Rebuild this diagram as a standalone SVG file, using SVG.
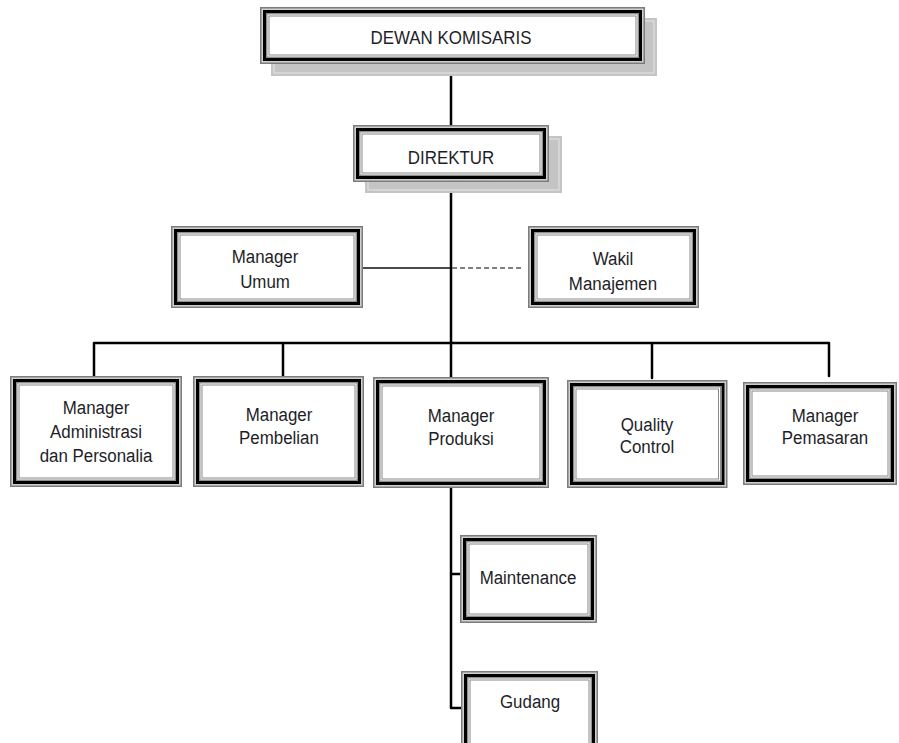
<svg xmlns="http://www.w3.org/2000/svg" width="899" height="743" viewBox="0 0 899 743">
<style>
.o{fill:#cfcfcf;stroke:#7c7c7c;stroke-width:1.5}
.b{fill:none;stroke:#000;stroke-width:3}
.g{fill:#fff;stroke:#8e8e8e;stroke-width:1.5}
.i{fill:#fff;stroke:#888;stroke-width:1}
.sh{fill:#c4c4c4}
.shl{fill:none;stroke:#e6e6e6;stroke-width:1}
text{font-family:"Liberation Sans",Arial,sans-serif;font-size:19px;fill:#1e1e28;text-anchor:middle}
.c{fill:none;stroke:#000;stroke-width:2.5;stroke-linejoin:round;stroke-linecap:round}
.t{fill:none;stroke:#111;stroke-width:1.5}
.d{fill:none;stroke:#555;stroke-width:1.5;stroke-dasharray:5 3}
</style>
<rect width="899" height="743" fill="#fff"/>
<g id="connectors">
<path class="c" d="M451 63V125M451 182V377"/>
<path class="c" d="M94 376V343H829V376M283 343V376M652 343V378"/>
<path class="c" d="M451 488V708H461M451 574H460"/>
<path class="t" d="M363 268H451"/>
<path class="d" d="M452 268H521"/>
</g>
<g id="dewan-komisaris">
<rect class="sh" x="271" y="18" width="386" height="58"/>
<rect class="shl" x="274" y="21" width="380" height="52"/>
<rect class="o" x="260.75" y="7.75" width="383.5" height="55.5"/>
<rect class="b" x="264.5" y="11.5" width="376" height="48"/>
<rect class="g" x="266.75" y="13.75" width="371.5" height="43.5"/>
<rect class="i" x="269" y="16" width="367" height="39"/>
<text x="451" y="44" textLength="161" lengthAdjust="spacingAndGlyphs">DEWAN KOMISARIS</text>
</g>
<g id="direktur">
<rect class="sh" x="365" y="136" width="197" height="57"/>
<rect class="shl" x="368" y="139" width="191" height="51"/>
<rect class="o" x="353.75" y="125.75" width="194.5" height="55.5"/>
<rect class="b" x="357.5" y="129.5" width="187" height="48"/>
<rect class="g" x="359.75" y="131.75" width="182.5" height="43.5"/>
<rect class="i" x="362" y="134" width="178" height="39"/>
<text transform="translate(451 0) scale(0.89 1)" x="0" y="164">DIREKTUR</text>
</g>
<g id="manager-umum">
<rect class="o" x="171.75" y="226.75" width="190.5" height="80.5"/>
<rect class="b" x="175.5" y="230.5" width="183" height="73"/>
<rect class="g" x="177.75" y="232.75" width="178.5" height="68.5"/>
<rect class="i" x="180" y="235" width="174" height="64"/>
<g transform="translate(265 0) scale(0.89 1)">
<text x="0" y="263">Manager</text>
<text x="0" y="288">Umum</text>
</g>
</g>
<g id="wakil-manajemen">
<rect class="o" x="528.75" y="226.75" width="169.5" height="80.5"/>
<rect class="b" x="532.5" y="230.5" width="162" height="73"/>
<rect class="g" x="534.75" y="232.75" width="157.5" height="68.5"/>
<rect class="i" x="537" y="235" width="153" height="64"/>
<g transform="translate(613 0) scale(0.89 1)">
<text x="0" y="265">Wakil</text>
<text x="0" y="290">Manajemen</text>
</g>
</g>
<g id="manager-administrasi">
<rect class="o" x="10.75" y="376.75" width="170.5" height="109.5"/>
<rect class="b" x="14.5" y="380.5" width="163" height="102"/>
<rect class="g" x="16.75" y="382.75" width="158.5" height="97.5"/>
<rect class="i" x="19" y="385" width="154" height="93"/>
<g transform="translate(96 0) scale(0.89 1)">
<text x="0" y="414">Manager</text>
<text x="0" y="438">Administrasi</text>
<text x="0" y="462">dan Personalia</text>
</g>
</g>
<g id="manager-pembelian">
<rect class="o" x="193.75" y="376.75" width="169.5" height="109.5"/>
<rect class="b" x="197.5" y="380.5" width="162" height="102"/>
<rect class="g" x="199.75" y="382.75" width="157.5" height="97.5"/>
<rect class="i" x="202" y="385" width="153" height="93"/>
<g transform="translate(279 0) scale(0.89 1)">
<text x="0" y="421">Manager</text>
<text x="0" y="444">Pembelian</text>
</g>
</g>
<g id="manager-produksi">
<rect class="o" x="373.75" y="377.75" width="174.5" height="109.5"/>
<rect class="b" x="377.5" y="381.5" width="167" height="102"/>
<rect class="g" x="379.75" y="383.75" width="162.5" height="97.5"/>
<rect class="i" x="382" y="386" width="158" height="93"/>
<g transform="translate(461 0) scale(0.89 1)">
<text x="0" y="422">Manager</text>
<text x="0" y="445">Produksi</text>
</g>
</g>
<g id="quality-control">
<rect class="o" x="567.75" y="380.75" width="159" height="106.5"/>
<rect class="b" x="571.5" y="384.5" width="151.5" height="99"/>
<rect class="g" x="573.75" y="386.75" width="147" height="94.5"/>
<rect class="i" x="576" y="389" width="142.5" height="90"/>
<g transform="translate(647 0) scale(0.89 1)">
<text x="0" y="431">Quality</text>
<text x="0" y="453">Control</text>
</g>
</g>
<g id="manager-pemasaran">
<rect class="o" x="743.75" y="382.75" width="152.5" height="101.5"/>
<rect class="b" x="747.5" y="386.5" width="145" height="94"/>
<rect class="g" x="749.75" y="388.75" width="140.5" height="89.5"/>
<rect class="i" x="752" y="391" width="136" height="85"/>
<g transform="translate(825 0) scale(0.89 1)">
<text x="0" y="422">Manager</text>
<text x="0" y="444">Pemasaran</text>
</g>
</g>
<g id="maintenance">
<rect class="o" x="460.75" y="535.75" width="135.5" height="86.5"/>
<rect class="b" x="464.5" y="539.5" width="128" height="79"/>
<rect class="g" x="466.75" y="541.75" width="123.5" height="74.5"/>
<rect class="i" x="469" y="544" width="119" height="70"/>
<text transform="translate(528 0) scale(0.89 1)" x="0" y="584">Maintenance</text>
</g>
<g id="gudang">
<rect class="o" x="461.75" y="671.75" width="135.5" height="86.5"/>
<rect class="b" x="465.5" y="675.5" width="128" height="79"/>
<rect class="g" x="467.75" y="677.75" width="123.5" height="74.5"/>
<rect class="i" x="470" y="680" width="119" height="70"/>
<text transform="translate(530 0) scale(0.89 1)" x="0" y="708">Gudang</text>
</g>
</svg>
